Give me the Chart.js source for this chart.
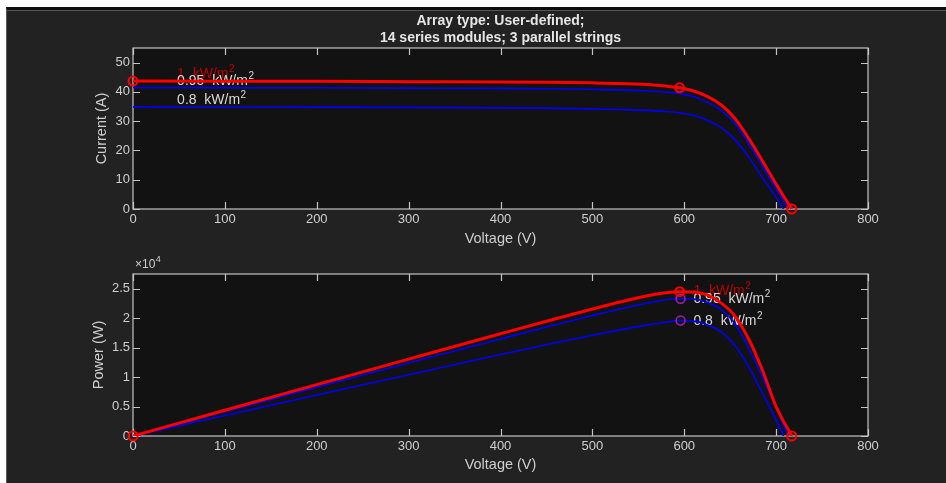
<!DOCTYPE html>
<html>
<head>
<meta charset="utf-8">
<script src="https://cdn.jsdelivr.net/npm/chart.js@4/dist/chart.umd.min.js"></script>
<style>
  html, body { margin: 0; padding: 0; background: #ffffff; }
  body { width: 946px; height: 483px; position: relative; overflow: hidden; }
  #panel {
    position: absolute; left: 6px; top: 7px; right: 0; bottom: 0;
    background: #222222;
    border-top: 3px solid #0d0d0d;
    border-left: 1px solid #5a5a5a;
    box-shadow: inset 0 1px 0 #555555;
  }
  .wrap { position: absolute; left: 0; width: 946px; }
  #ivWrap { top: 0; height: 250px; }
  #pvWrap { top: 250px; height: 233px; }
</style>
</head>
<body>
<div id="panel"></div>
<div class="wrap" id="ivWrap"><canvas id="ivChart"></canvas></div>
<div class="wrap" id="pvWrap"><canvas id="pvChart"></canvas></div>
<script>
  // 1 kW/m2
  const v1000 = [0, 100, 200, 300, 400, 450, 500, 530, 560, 580, 595, 610, 625, 640, 655, 670, 685, 700, 717];
  const i1000 = [43.7, 43.65, 43.6, 43.5, 43.4, 43.3, 43.1, 42.9, 42.5, 42.0, 41.4, 40.3, 38.5, 35.6, 31.0, 24.2, 16.5, 8.5, 0];
  const p1000 = [0, 4370, 8720, 13050, 17360, 19490, 21550, 22740, 23800, 24300, 24500, 24450, 23950, 22600, 20400, 16500, 11200, 5000, 0];

  // 0.95 kW/m2
  const v950 = [0, 100, 200, 300, 400, 450, 500, 530, 560, 580, 595, 610, 625, 640, 655, 670, 685, 700, 713];
  const i950 = [41.5, 41.45, 41.4, 41.3, 41.2, 41.1, 40.9, 40.7, 40.3, 39.9, 39.5, 38.4, 36.5, 33.7, 29.3, 22.3, 14.6, 6.8, 0];
  const p950 = [0, 4145, 8280, 12390, 16480, 18500, 20450, 21570, 22570, 23140, 23300, 23250, 22700, 21500, 19100, 14900, 10000, 4800, 0];

  // 0.8 kW/m2
  const v800 = [0, 100, 200, 300, 400, 450, 500, 530, 560, 580, 595, 610, 625, 640, 655, 670, 685, 700, 708];
  const i800 = [34.9, 34.85, 34.8, 34.7, 34.55, 34.45, 34.2, 34.0, 33.7, 33.3, 32.9, 32.0, 30.3, 27.8, 23.8, 17.8, 10.8, 3.9, 0];
  const p800 = [0, 3485, 6960, 10410, 13820, 15500, 17100, 18020, 18870, 19310, 19600, 19500, 18900, 17700, 15400, 11800, 7300, 2700, 0];

  // markers: Isc / MPP / Voc of the 1 kW/m2 curve, MPP of the others
  const redMarkV = [0, 595, 717];
  const redMarkI = [43.7, 41.4, 0];
  const redMarkP = [0, 24500, 0];
  const mppMarkV = [596, 596];
  const mppMarkP = [23300, 19600];

  const xTicks = [0, 100, 200, 300, 400, 500, 600, 700, 800];
  const iTicks = [0, 10, 20, 30, 40, 50];
  const pTicks = [0, 5000, 10000, 15000, 20000, 25000];

  const TEXT = '#cfcfcf';
  const AXIS = '#c4c4c4';
  const FONT = '"Liberation Sans", Arial, sans-serif';

  const pts = (xs, ys) => xs.map((x, i) => ({ x, y: ys[i] }));

  const curve = (data, color, width, order) => ({
    data, borderColor: color, borderWidth: width, pointRadius: 0,
    cubicInterpolationMode: 'monotone', order,
  });

  const marks = (data, color, width, order) => ({
    data, showLine: false, borderColor: color, backgroundColor: 'rgba(0,0,0,0)',
    pointRadius: 4.5, pointBorderWidth: width, pointBorderColor: color,
    pointBackgroundColor: 'rgba(0,0,0,0)', clip: false, order,
  });

  const boxTicks = {
    id: 'boxTicks',
    beforeDraw(chart) {
      const { ctx, chartArea: a } = chart;
      ctx.save();
      ctx.fillStyle = '#121212';
      ctx.fillRect(a.left, a.top, a.right - a.left, a.bottom - a.top);
      ctx.restore();
    },
    beforeDatasetsDraw(chart) {
      const { ctx, chartArea: a, scales: { x, y } } = chart;
      ctx.save();
      ctx.strokeStyle = AXIS;
      ctx.lineWidth = 1.2;
      ctx.strokeRect(a.left, a.top, a.right - a.left, a.bottom - a.top);
      ctx.beginPath();
      x.ticks.forEach((t) => {
        const px = Math.round(x.getPixelForValue(t.value)) + 0.5;
        ctx.moveTo(px, a.bottom); ctx.lineTo(px, a.bottom - 7);
        ctx.moveTo(px, a.top); ctx.lineTo(px, a.top + 7);
      });
      y.ticks.forEach((t) => {
        const py = Math.round(y.getPixelForValue(t.value)) + 0.5;
        ctx.moveTo(a.left, py); ctx.lineTo(a.left + 7, py);
        ctx.moveTo(a.right, py); ctx.lineTo(a.right - 7, py);
      });
      ctx.stroke();
      ctx.restore();
    },
  };

  const curveLabels = {
    id: 'curveLabels',
    beforeDatasetsDraw(chart, args, opts) {
      const { ctx, chartArea: a, scales: { x, y } } = chart;
      ctx.save();
      (opts.items || []).forEach((it) => {
        const px = x.getPixelForValue(it.at[0]);
        const py = y.getPixelForValue(it.at[1]);
        ctx.fillStyle = it.color;
        ctx.textBaseline = 'alphabetic';
        ctx.font = '14px ' + FONT;
        ctx.fillText(it.text, px, py);
        const w = ctx.measureText(it.text).width;
        ctx.font = '10px ' + FONT;
        ctx.fillText('2', px + w + 0.5, py - 6);
      });
      if (opts.exponent) {
        ctx.fillStyle = TEXT;
        ctx.font = '12px ' + FONT;
        ctx.fillText('\u00d710', a.left + 2, a.top - 6);
        const w = ctx.measureText('\u00d710').width;
        ctx.font = '9px ' + FONT;
        ctx.fillText('4', a.left + 2 + w + 0.5, a.top - 12);
      }
      ctx.restore();
    },
  };

  Chart.defaults.font.family = FONT;
  Chart.defaults.color = TEXT;

  const xScale = (titleHeight) => ({
    type: 'linear', min: 0, max: 800,
    afterBuildTicks: (s) => { s.ticks = xTicks.map((value) => ({ value })); },
    grid: { display: false, drawTicks: false },
    border: { display: false },
    ticks: { padding: 3, font: { size: 13 }, color: TEXT },
    title: { display: true, text: 'Voltage (V)', color: TEXT, font: { size: 14.5 }, padding: 0 },
    afterFit: (s) => { s.height = titleHeight; },
  });

  const yScale = (max, ticks, label, width, fmt) => ({
    type: 'linear', min: 0, max,
    afterBuildTicks: (s) => { s.ticks = ticks.map((value) => ({ value })); },
    grid: { display: false, drawTicks: false },
    border: { display: false },
    ticks: { padding: 3, font: { size: 13 }, color: TEXT, callback: fmt },
    title: { display: true, text: label, color: TEXT, font: { size: 14.5 }, padding: 0 },
    afterFit: (s) => { s.width = width; },
  });

  new Chart(document.getElementById('ivChart'), {
    type: 'line',
    data: {
      datasets: [
        marks(pts(redMarkV, redMarkI), '#ff0000', 2, 0),
        curve(pts(v1000, i1000), '#ff0000', 3, 1),
        curve(pts(v950, i950), '#0000ff', 1.6, 3),
        curve(pts(v800, i800), '#0000ff', 1.6, 3),
      ],
    },
    options: {
      responsive: true, maintainAspectRatio: false, animation: false, events: [],
      layout: { autoPadding: false, padding: { left: 92.8, right: 78, top: 0, bottom: 2.3 } },
      scales: {
        x: xScale(38.7),
        y: yScale(55, iTicks, 'Current (A)', 40.2, (v) => v),
      },
      plugins: {
        legend: { display: false },
        tooltip: { enabled: false },
        title: {
          display: true, fullSize: false,
          text: ['Array type: User-defined;', '14 series modules; 3 parallel strings'],
          color: '#e6e6e6', font: { size: 14, weight: 'bold', lineHeight: 1.2 },
          padding: { top: 13, bottom: 1.4 },
        },
        curveLabels: {
          items: [
            { text: '1  kW/m', at: [48, 44.7], color: '#c00000' },
            { text: '0.95  kW/m', at: [48, 42.4], color: '#d8d8d8' },
            { text: '0.8  kW/m', at: [48, 35.9], color: '#d8d8d8' },
          ],
        },
      },
    },
    plugins: [boxTicks, curveLabels],
  });

  new Chart(document.getElementById('pvChart'), {
    type: 'line',
    data: {
      datasets: [
        marks(pts(redMarkV, redMarkP), '#ff0000', 2, 0),
        curve(pts(v1000, p1000), '#ff0000', 3, 1),
        marks(pts(mppMarkV, mppMarkP), '#a020b0', 1.5, 2),
        curve(pts(v950, p950), '#0000ff', 1.6, 3),
        curve(pts(v800, p800), '#0000ff', 1.6, 3),
      ],
    },
    options: {
      responsive: true, maintainAspectRatio: false, animation: false, events: [],
      layout: { autoPadding: false, padding: { left: 89.8, right: 78, top: 24, bottom: 9.3 } },
      scales: {
        x: xScale(37.7),
        y: yScale(27500, pTicks, 'Power (W)', 43.2, (v) => v / 10000),
      },
      plugins: {
        legend: { display: false },
        tooltip: { enabled: false },
        curveLabels: {
          exponent: true,
          items: [
            { text: '1  kW/m', at: [610, 23970], color: '#c00000' },
            { text: '0.95  kW/m', at: [610, 22560], color: '#d8d8d8' },
            { text: '0.8  kW/m', at: [610, 18860], color: '#d8d8d8' },
          ],
        },
      },
    },
    plugins: [boxTicks, curveLabels],
  });
</script>
</body>
</html>
